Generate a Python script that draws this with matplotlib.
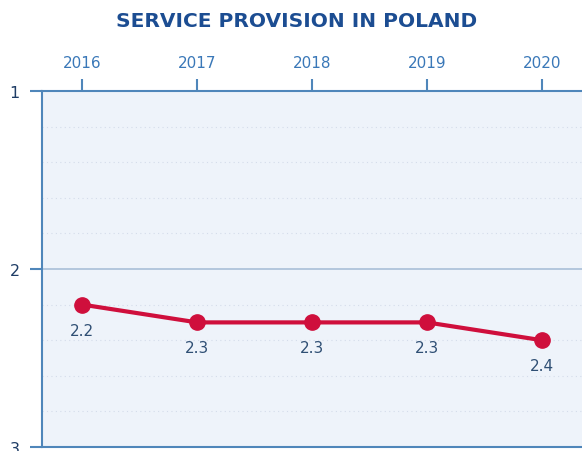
import matplotlib.pyplot as plt
import numpy as np

# Data
years = [2016, 2017, 2018, 2019, 2020]
scores = [2.2, 2.3, 2.3, 2.3, 2.4]
labels = ['2.2', '2.3', '2.3', '2.3', '2.4']
y_ticks = [1, 2, 3]

axis_blue = '#4f86ba'
navy = '#1c4d92'
red = '#cf0f3c'

fig = plt.figure(figsize=(5.82, 4.52), dpi=100)
ax = fig.add_axes([42 / 582, 4 / 452, 1 - 42 / 582, 356 / 452])
ax.set_facecolor('#eef3fa')

ax.set_xlim(2015.65, 2020.35)
ax.set_ylim(3, 1)

# faint dotted background grid
for y in np.arange(1.2, 3.0, 0.2):
    if abs(y - 2) > 1e-6:
        ax.axhline(y, color='#d4dcea', linestyle=(0, (1, 3)), linewidth=0.8, zorder=0)
ax.axhline(2, color='#a9bfd8', linewidth=1.2, zorder=1)

ax.plot(years, scores, color=red, linewidth=3, marker='o', markersize=11,
        zorder=3, solid_capstyle='round')
for x, y, t in zip(years, scores, labels):
    ax.annotate(t, (x, y), xytext=(0, -13), textcoords='offset points',
                ha='center', va='top', fontsize=11, color='#2f4f74')

ax.xaxis.tick_top()
ax.set_xticks(years)
ax.set_xticklabels([str(y) for y in years], fontsize=11, color='#3a78b8')
ax.tick_params(axis='x', direction='out', length=9, width=1.5, color=axis_blue, pad=6)

ax.set_yticks(y_ticks)
ax.set_yticklabels([str(v) for v in y_ticks], fontsize=11.5, color='#1f3d66')
ax.tick_params(axis='y', direction='out', length=9, width=1.5, color=axis_blue, pad=7)

for side in ['top', 'left', 'bottom']:
    ax.spines[side].set_color(axis_blue)
    ax.spines[side].set_linewidth(1.5)
ax.spines['right'].set_visible(False)

fig.text(0.51, 0.953, 'SERVICE PROVISION IN POLAND', ha='center', va='center',
         fontsize=14.5, fontweight='bold', color=navy)

fig.savefig('out.png', dpi=100)
